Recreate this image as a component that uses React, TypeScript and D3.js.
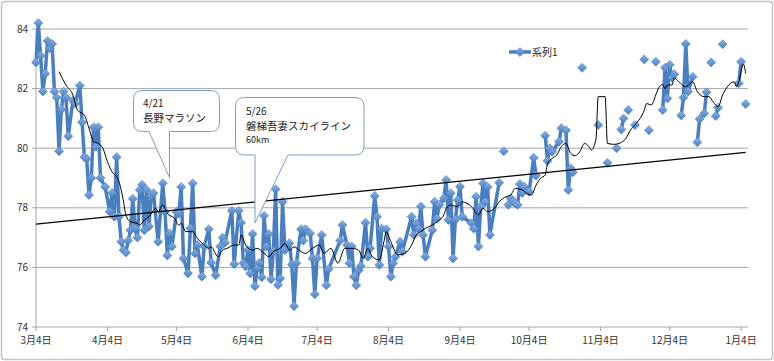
import * as d3 from 'd3';

// weight log, day offsets counted from 3/4 (null = blank cell -> line gap)
const START = new Date(2012, 2, 4);

const dayOffsets = [
  0, 1, 2, 3, 4, 5, 6, 7, 8, 9, 10, 11, 12, 13, 14, 16, 17, 19, 20, 21, 22, 23, 24, 25, 26, 27, 28, 30,
  32, 33, 34, 35, 36, 37, 38, 39, 40, 41, 42, 43, 44, 45, 46, 47, 48, 49, 50, 51, 53, 55, 56, 57, 58, 59,
  61, 62, 63, 64, 66, 67, 68, 69, 70, 72, 73, 75, 76, 78, 80, 81, 82, 85, 86, 88, 89, 90, 91, 92, 93, 94,
  95, 96, 97, 98, 99, 100, 101, 102, 103, 104, 105, 106, 107, 108, 110, 111, 112, 113, 115, 116, 117, 119,
  120, 121, 122, 124, 126, 127, 132, 133, 135, 136, 137, 138, 139, 140, 141, 143, 144, 145, 147, 148, 149,
  150, 152, 153, 154, 155, 156, 158, 159, 163, 164, 165, 166, 167, 168, 169, 172, 173, 174, 175, 177, 178,
  179, 180, 181, 182, 183, 184, 185, 189, 190, 191, 192, 193, 194, 195, 196, 197, 201, 202, 203, 204, 205,
  206, 207, 208, 209, 210, 211, 212, 214, 216, 217, 218, 221, 222, 223, 224, 227, 228, 230, 231, 232, 233,
  234, 237, 238, 244, 245, 248, 249, 252, 253, 254, 255, 256, 257, 258, 260, 261, 264, 265, 266, 267, 269,
  270, 272, 273, 274, 275, 276, 277, 278, 280, 281, 282, 283, 285, 286, 287, 288, 290, 291, 292, 293, 294,
  295, 296, 297, 298, 299, 305, 306, 307, 308,
];

const weights: (number | null)[] = [
  82.88, 84.2, 83.1, 81.9, 82.5, 83.6, 83.35, 83.5, 81.9, 81.7, 79.9, 81.3, 81.9, 81.7, 80.4, 81.6, 81.5, 82.1,
  80.87, 79.7, 79.65, 78.43, 79.0, 80.7, 80.05, 80.7, 79.0, 78.7,
  77.87, 78.5, 77.7, 79.7, 77.7, 76.86, 76.58, 76.5, 76.9, 77.25, 78.3, 77.3, 77.0, 78.6, 78.77, 77.25, 78.6,
  77.37, 78.4, 78.49, 76.86, 78.82, 77.87, 76.4, 77.14, 76.7,
  77.87, 77.81, 78.7, 76.3, 75.8, 77.31, 78.82, 76.47, 76.75, 75.69, 76.7, 77.28, 76.16, 75.74, 76.7, 77.0,
  76.83, 77.9, 76.11, 77.9, 77.5, 76.14, 76.03, 76.58, 75.8, 77.12,
  75.37, 75.97, 76.16, 75.67, 77.73, 76.7, 77.12, 75.6, 76.53, 78.62, 75.41, 75.63, 78.2, 76.58, 76.81, 76.1,
  74.7, 76.14, 77.28, 76.9, 77.28, 77.14,
  76.3, 75.1, 76.3, 77.09, 75.4, 75.94, 76.9, 77.42, 76.75, 76.14, 76.7, 75.69, 75.4, 75.9, 76.05, 77.5, 76.36,
  76.64, 78.4, 77.7, 76.08,
  77.3, 77.28, 76.7, 75.69, 76.14, 76.36, 76.86, 76.53, 77.7, 77.09, 77.48, 77.3, 78.04, 77.09, 76.36, 77.25,
  78.2, 77.64, 78.1, 78.32, 78.93,
  77.59, 78.49, 76.3, 77.6, 78.26, 78.71, 77.7, 77.48, 77.3, 78.37, 76.7, 78.04, 78.82, 78.2, 78.7, 77.09,
  78.84, null, 79.9, null, 78.1,
  78.32, 78.2, 78.15, 78.1, 78.8, 78.5, 78.7, 78.54, 79.68, 79.08, null, 80.42, 79.57, 80.0, 79.88, 80.22,
  80.67, 80.6, 78.6, 79.33, 79.19,
  null, 82.7, null, 80.78, null, 79.51, null, 80.0, null, 80.63, 81.0, null, 81.28, null, 80.78, null, 82.98,
  null, 80.6, null, 82.9,
  null, 81.28, 82.7, 81.67, 82.8, 82.37, 82.48, null, 81.1, 81.7, 83.5, 81.9, 82.4, null, 80.2, 80.98, 81.17,
  81.88, null, 82.88, null,
  81.08, 81.36, null, 83.49, null, 82.18, 82.9, null, 81.48,
];

// moving-average trendline as drawn in the sheet
const maDays = [
  10, 13, 16, 18, 21, 23, 25, 27, 29, 31, 33, 35, 36, 38, 39, 41, 44, 45, 47, 49, 52, 53, 55, 57, 60, 62, 63,
  65, 68, 70, 73, 75, 76, 79, 81, 83, 86, 88, 89, 91, 94, 96, 99, 101, 103, 106, 108, 110, 112, 115, 117, 120,
  123, 125, 128, 131, 134, 137, 140, 142, 144, 146, 149, 151, 152, 154, 157, 160, 163, 165, 167, 169, 172, 174,
  177, 178, 180, 183, 185, 187, 189, 192, 194, 196, 199, 201, 204, 206, 208, 211, 213, 215, 217, 219, 221, 222,
  224, 226, 228, 230, 232, 234, 236, 238, 240, 241, 243, 244, 247, 248, 251, 253, 256, 258, 260, 264, 265, 267,
  269, 270, 272, 273, 274, 276, 277, 279, 282, 284, 285, 287, 290, 292, 294, 296, 298, 300, 303, 304, 305, 307,
  308,
];
const maValues = [
  82.57, 82.12, 81.79, 81.28, 81.11, 80.67, 80.22, 80.16, 80.0, 79.55, 79.21, 79.04, 78.88, 78.2, 77.76, 77.53,
  77.48, 77.42, 77.59, 77.7, 77.98, 77.87, 78.09, 77.81, 77.65, 77.42, 77.48,
  77.2, 77.2, 76.98, 76.75, 76.64, 76.69, 76.36, 76.58, 76.64, 76.75, 76.75, 77.09, 76.75, 76.58, 76.64, 76.47,
  76.36, 76.53, 76.64, 76.8, 76.58, 76.69, 76.53, 76.47, 76.64,
  76.75, 76.47, 76.64, 76.14, 76.64, 76.64, 76.58, 76.3, 76.64, 76.36, 76.25, 76.86, 77.2, 76.86, 76.42, 76.47,
  76.75, 77.09, 77.2, 77.31, 77.42, 77.53,
  77.76, 77.98, 78.09, 78.04, 78.2, 78.15, 78.04, 77.76, 77.98, 77.87, 77.98, 78.2, 78.37, 78.43, 78.65, 78.6,
  78.48, 78.43, 78.76, 78.99, 79.1, 79.49,
  79.66, 79.77, 80.05, 80.16, 79.83, 79.75, 79.88, 80.16, 80.05, 79.94, 80.3, 81.73, 81.73, 80.16, 80.13, 80.16,
  80.33, 80.61, 80.78, 81.28, 81.5, 81.45,
  81.79, 81.99, 82.14, 81.99, 82.12, 82.12, 82.35, 82.23, 82.06, 82.18, 82.23, 81.9, 81.73, 81.73, 81.54, 81.39,
  81.79, 82.06, 82.23, 82.06, 82.23, 82.82,
  82.51,
];

// linear trendline end values
const trendDays = [0, 308];
const trendValues = [77.45, 79.86];

const yTicks = [74, 76, 78, 80, 82, 84];
const monthSteps = [0, 1, 2, 3, 4, 5, 6, 7, 8, 9, 10];
const seriesName = '系列1';

const callouts = [
  { lines: ['4/21', '長野マラソン'] },
  { lines: ['5/26', '磐梯吾妻スカイライン', '60km'] },
];

const FONT = '"Noto Sans CJK JP", "Noto Sans", sans-serif';
const BLUE = '#4a7ebf';

type Pt = { d: Date; v: number | null };

// rounded box with a tail at the bottom edge
function calloutPath(x0: number, y0: number, x1: number, y1: number, r: number,
  baseL: number, baseR: number, tipX: number, tipY: number) {
  return [
    `M${x0 + r},${y0}`,
    `H${x1 - r}`, `Q${x1},${y0} ${x1},${y0 + r}`,
    `V${y1 - r}`, `Q${x1},${y1} ${x1 - r},${y1}`,
    `H${baseR}`, `L${tipX},${tipY}`, `L${baseL},${y1}`,
    `H${x0 + r}`, `Q${x0},${y1} ${x0},${y1 - r}`,
    `V${y0 + r}`, `Q${x0},${y0} ${x0 + r},${y0}`, 'Z',
  ].join(' ');
}

export default function App() {
  const width = 774;
  const height = 361;
  const left = 36, right = 748, top = 29, bottom = 327;

  const x = d3.scaleTime()
    .domain([START, d3.timeDay.offset(START, 309)])
    .range([left, right]);
  const y = d3.scaleLinear().domain([74, 84]).range([bottom, top]);

  const pts: Pt[] = dayOffsets.map((o, i) => ({ d: d3.timeDay.offset(START, o), v: weights[i] }));
  const line = d3.line<Pt>()
    .defined(p => p.v != null)
    .x(p => x(p.d))
    .y(p => y(p.v as number));

  const maLine = d3.line<number>()
    .x(o => x(d3.timeDay.offset(START, o)))
    .y((_, i) => y(maValues[i]))
    .curve(d3.curveMonotoneX);

  const trendLine = d3.line<number>()
    .x(o => x(d3.timeDay.offset(START, o)))
    .y((_, i) => y(trendValues[i]));

  const diamond = d3.symbol((d3 as any).symbolDiamond2 ?? d3.symbolDiamond, 52)();
  const fmt = d3.timeFormat('%-m月%-d日');
  const monthTicks = monthSteps.map(m => d3.timeMonth.offset(START, m));

  return (
    <svg width={width} height={height} style={{ position: 'absolute', left: 0, top: 0 }} fontFamily={FONT}>
      <defs>
        <linearGradient id="mk" x1="0" y1="0" x2="0" y2="1">
          <stop offset="0" stopColor="#8ab2e6" />
          <stop offset="1" stopColor="#4a7ebf" />
        </linearGradient>
      </defs>
      <rect x={1.5} y={1.5} width={width - 3} height={height - 3} rx={3} fill="#fff" stroke="#c4c4c4" strokeWidth={1.5} />

      {/* gridlines */}
      {yTicks.map(t => (
        <g key={t}>
          {t > 74 && <line x1={left} x2={right} y1={y(t)} y2={y(t)} stroke="#a6a6a6" strokeWidth={1} />}
          <line x1={left - 4} x2={left} y1={y(t)} y2={y(t)} stroke="#a6a6a6" />
          <text x={left - 8} y={y(t)} dy="0.35em" textAnchor="end" fontSize={10} fill="#333">{t}</text>
        </g>
      ))}
      <line x1={left} x2={left} y1={top} y2={bottom} stroke="#a6a6a6" />
      <line x1={left} x2={right} y1={bottom} y2={bottom} stroke="#a6a6a6" />
      {monthTicks.map(d => (
        <g key={+d}>
          <line x1={x(d)} x2={x(d)} y1={bottom} y2={bottom + 4} stroke="#a6a6a6" />
          <text x={x(d)} y={bottom + 17} textAnchor="middle" fontSize={10} fill="#333">{fmt(d)}</text>
        </g>
      ))}

      {/* series */}
      <path d={line(pts) ?? ''} fill="none" stroke={BLUE} strokeWidth={3.5} strokeLinejoin="round" />
      {pts.filter(p => p.v != null).map((p, i) => (
        <path key={i} d={diamond ?? ''} transform={`translate(${x(p.d)},${y(p.v as number)})`}
          fill="url(#mk)" stroke="#4f7fbd" strokeWidth={0.6} />
      ))}

      {/* trendlines */}
      <path d={maLine(maDays) ?? ''} fill="none" stroke="#000" strokeWidth={1} />
      <path d={trendLine(trendDays) ?? ''} fill="none" stroke="#000" strokeWidth={1.2} />

      {/* legend */}
      <line x1={509} x2={531} y1={52} y2={52} stroke={BLUE} strokeWidth={3.5} />
      <path d={diamond ?? ''} transform="translate(520,52)" fill="url(#mk)" stroke="#4f7fbd" strokeWidth={0.6} />
      <text x={532} y={56} fontSize={10} fill="#222">{seriesName}</text>

      {/* callouts */}
      <path d={calloutPath(133.5, 90.5, 219.5, 131.5, 9, 149, 169.5, 169.5, 177.5)}
        fill="#fff" stroke="#7f9cc6" strokeWidth={1} />
      <text x={143} y={107} fontSize={10} fill="#222">{callouts[0].lines[0]}</text>
      <text x={143} y={122} fontSize={10.5} fill="#222">{callouts[0].lines[1]}</text>

      <path d={calloutPath(235.5, 97.5, 364, 155, 9, 255, 288, 255, 223)}
        fill="#fff" stroke="#7f9cc6" strokeWidth={1} />
      <text x={246} y={115} fontSize={10} fill="#222">{callouts[1].lines[0]}</text>
      <text x={246} y={130} fontSize={10.5} fill="#222">{callouts[1].lines[1]}</text>
      <text x={246} y={143} fontSize={9} fill="#222">{callouts[1].lines[2]}</text>
    </svg>
  );
}
